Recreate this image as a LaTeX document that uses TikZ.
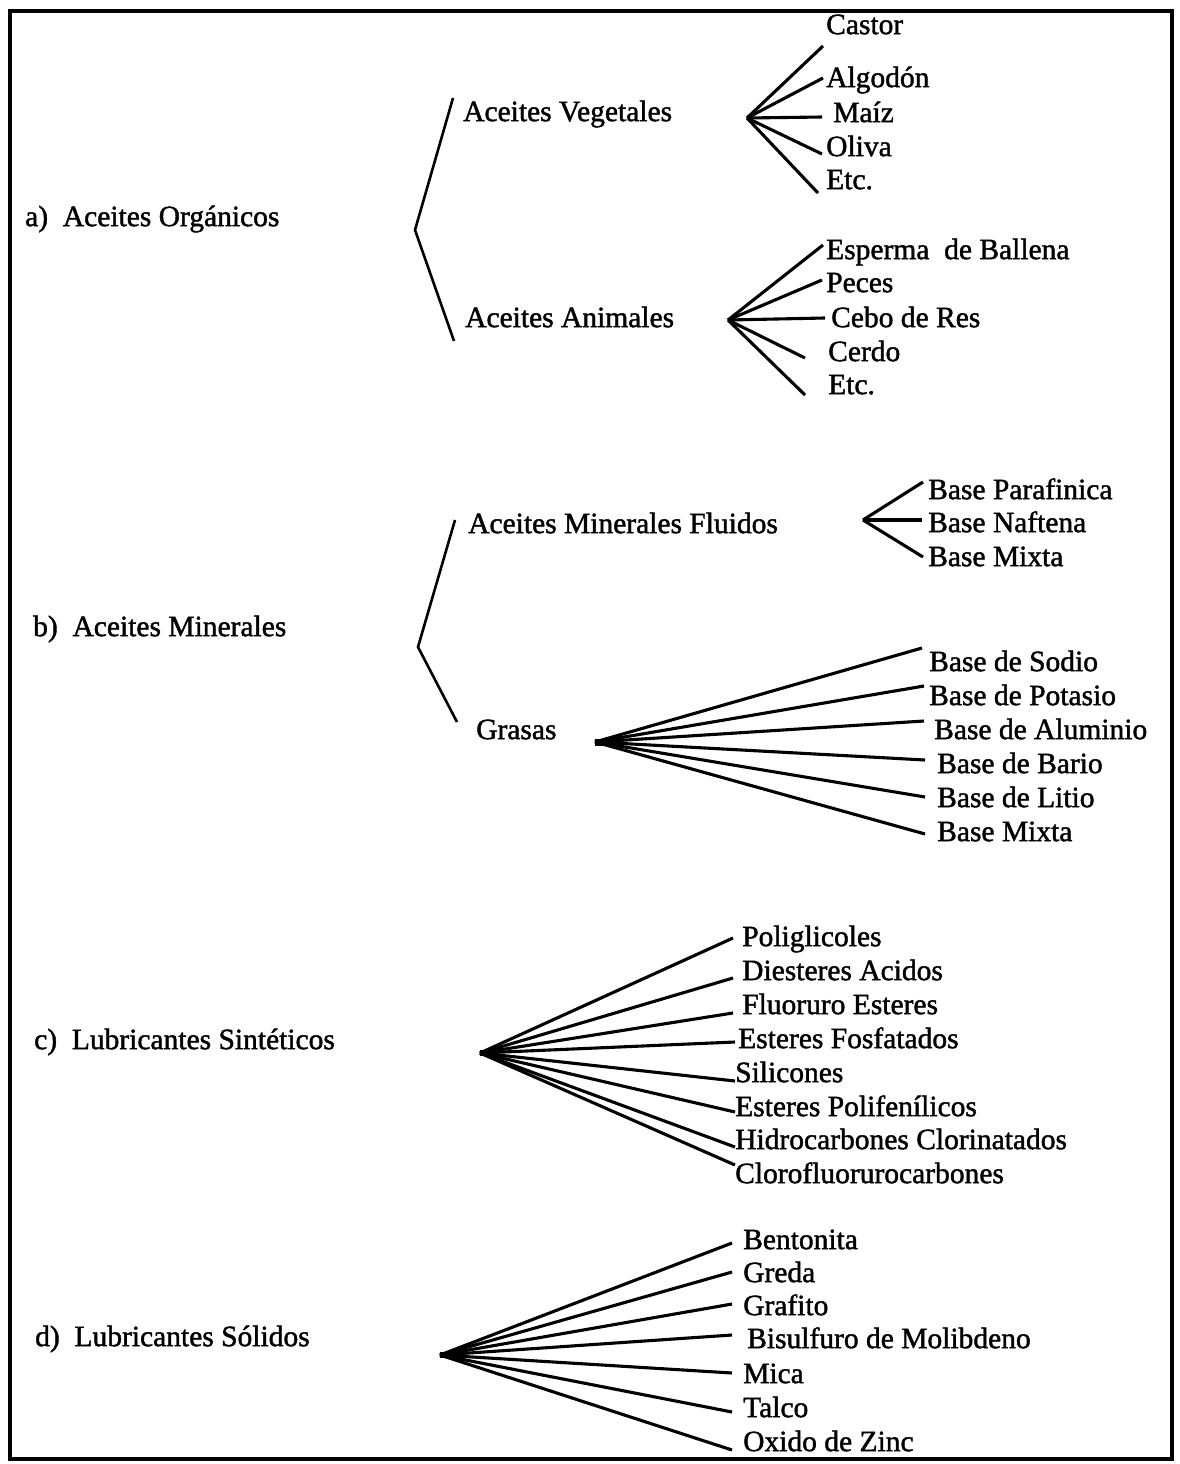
\documentclass[tikz,border=0pt]{standalone}
\usepackage{fontspec}
\setmainfont{Liberation Serif}[RawFeature={embolden=1.4}]
\begin{document}
\begin{tikzpicture}[x=1pt,y=-1pt,
  lbl/.style={anchor=west,inner sep=0pt,text height=0.62em,text depth=0pt,
              yshift=-6pt,font=\fontsize{29.5}{34}\selectfont},
  brk/.style={line width=2.6pt,line join=miter},
  fan/.style={line width=3.1pt},
  frame/.style={line width=4.5pt}]
\useasboundingbox (0,0) rectangle (1179,1464);
\fill[white] (0,0) rectangle (1179,1464);
\draw[frame] (10,11) rectangle (1172,1459);

% ---------------- a) Aceites Organicos ----------------
\node[lbl] (ao) at (25,217) {a)\hspace{0.5em}Aceites Orgánicos};
\node[lbl] (veg) at (463,112) {Aceites Vegetales};
\node[lbl] (ani) at (465,318) {Aceites Animales};
\coordinate (aBt) at (453,98);
\coordinate (aBv) at (415,230);
\coordinate (aBb) at (454,341);
\draw[brk] (aBt) -- (aBv) -- (aBb);

\node[lbl] (cas) at (826,25) {Castor};
\node[lbl] (alg) at (826,78) {Algodón};
\node[lbl] (mai) at (833,113) {Maíz};
\node[lbl] (oli) at (826,147) {Oliva};
\node[lbl] (etc1) at (826,180) {Etc.};
\coordinate (v0) at (747,118);
\coordinate (v1) at (823,46);
\coordinate (v2) at (823,78);
\coordinate (v3) at (822,117);
\coordinate (v4) at (822,154);
\coordinate (v5) at (818,193);
\foreach \e in {v1,v2,v3,v4,v5} \draw[fan] (v0) -- (\e);

\node[lbl] (esp) at (826,250) {Esperma\ \ de Ballena};
\node[lbl] (pec) at (826,283) {Peces};
\node[lbl] (ceb) at (831,318) {Cebo de Res};
\node[lbl] (cer) at (828,352) {Cerdo};
\node[lbl] (etc2) at (828,385) {Etc.};
\coordinate (n0) at (728,320);
\coordinate (n1) at (823,245);
\coordinate (n2) at (822,280);
\coordinate (n3) at (825,318);
\coordinate (n4) at (805,358);
\coordinate (n5) at (805,395);
\foreach \e in {n1,n2,n3,n4,n5} \draw[fan] (n0) -- (\e);

% ---------------- b) Aceites Minerales ----------------
\node[lbl] (am) at (33,627) {b)\hspace{0.5em}Aceites Minerales};
\node[lbl] (flu) at (468,524) {Aceites Minerales Fluidos};
\node[lbl] (gra) at (476,730) {Grasas};
\coordinate (bBt) at (455,520);
\coordinate (bBv) at (418,647);
\coordinate (bBb) at (457,722);
\draw[brk] (bBt) -- (bBv) -- (bBb);

\node[lbl] (par) at (928,490) {Base Parafinica};
\node[lbl] (naf) at (928,523) {Base Naftena};
\node[lbl] (mix1) at (928,557) {Base Mixta};
\coordinate (f0) at (863,520);
\coordinate (f1) at (923,482);
\coordinate (f2) at (922,520);
\coordinate (f3) at (923,557);
\foreach \e in {f1,f2,f3} \draw[fan] (f0) -- (\e);

\node[lbl] (sod) at (929,662) {Base de Sodio};
\node[lbl] (pot) at (929,696) {Base de Potasio};
\node[lbl] (alu) at (934,730) {Base de Aluminio};
\node[lbl] (bar) at (937,764) {Base de Bario};
\node[lbl] (lit) at (937,798) {Base de Litio};
\node[lbl] (mix2) at (937,832) {Base Mixta};
\coordinate (g0) at (595,742);
\coordinate (g1) at (922,648);
\coordinate (g2) at (924,686);
\coordinate (g3) at (924,721);
\coordinate (g4) at (925,760);
\coordinate (g5) at (925,797);
\coordinate (g6) at (925,834);
\foreach \e in {g1,g2,g3,g4,g5,g6} \draw[fan] (g0) -- (\e);
\draw[line width=7pt] (g0) -- ++(14,0);

% ---------------- c) Lubricantes Sinteticos ----------------
\node[lbl] (ls) at (34,1040) {c)\hspace{0.5em}Lubricantes Sintéticos};
\node[lbl] (pol) at (742,937) {Poliglicoles};
\node[lbl] (die) at (742,971) {Diesteres Acidos};
\node[lbl] (flr) at (742,1005) {Fluoruro Esteres};
\node[lbl] (fos) at (738,1039) {Esteres Fosfatados};
\node[lbl] (sil) at (735,1073) {Silicones};
\node[lbl] (pfe) at (735,1107) {Esteres Polifenílicos};
\node[lbl] (hid) at (735,1140) {Hidrocarbones Clorinatados};
\node[lbl] (clo) at (735,1174) {Clorofluorurocarbones};
\coordinate (s0) at (480,1053);
\coordinate (s1) at (733,938);
\coordinate (s2) at (733,978);
\coordinate (s3) at (733,1013);
\coordinate (s4) at (735,1042);
\coordinate (s5) at (735,1081);
\coordinate (s6) at (735,1112);
\coordinate (s7) at (735,1147);
\coordinate (s8) at (735,1165);
\foreach \e in {s1,s2,s3,s4,s5,s6,s7,s8} \draw[fan] (s0) -- (\e);
\draw[line width=6pt] (s0) -- ++(10,0);

% ---------------- d) Lubricantes Solidos ----------------
\node[lbl] (lso) at (35,1337) {d)\hspace{0.5em}Lubricantes Sólidos};
\node[lbl] (ben) at (743,1240) {Bentonita};
\node[lbl] (gre) at (743,1273) {Greda};
\node[lbl] (grf) at (743,1306) {Grafito};
\node[lbl] (bis) at (747,1339) {Bisulfuro de Molibdeno};
\node[lbl] (mic) at (743,1374) {Mica};
\node[lbl] (tal) at (743,1408) {Talco};
\node[lbl] (oxi) at (743,1442) {Oxido de Zinc};
\coordinate (d0) at (440,1355);
\coordinate (d1) at (732,1243);
\coordinate (d2) at (732,1272);
\coordinate (d3) at (732,1304);
\coordinate (d4) at (732,1335);
\coordinate (d5) at (732,1373);
\coordinate (d6) at (732,1412);
\coordinate (d7) at (732,1450);
\foreach \e in {d1,d2,d3,d4,d5,d6,d7} \draw[fan] (d0) -- (\e);
\draw[line width=6pt] (d0) -- ++(16,0);
\end{tikzpicture}
\end{document}
